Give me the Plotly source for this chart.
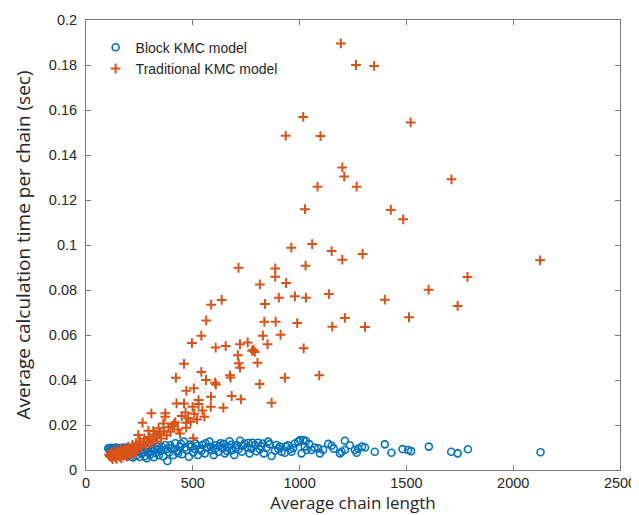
import plotly.graph_objects as go

# Block KMC model (blue circles)
block_x = [104,110,117,124,130,137,143,150,156,163,170,177,185,193,201,210,218,
           112,120,128,135,142,150,158,165,172,180,188,195,203,212,220,228,236,244,252,260,268,276,284,292,300,
           310,318,326,334,342,352,362,372,381,390,398,408,418,428,440,450,458,470,482,492,502,512,524,534,545,
           556,566,578,590,598,608,620,630,640,650,662,672,684,694,706,714,721,730,742,755,766,780,791,806,814,
           827,833,853,869,885,892,908,916,931,936,955,962,978,994,1002,1009,1017,1024,1030,1033,1056,1087,1095,
           1134,1150,1189,1197,1212,1212,1259,1267,1292,1306,1352,1399,1430,1482,1508,1522,1605,1710,1740,1788,2128,
           240,255,270,288,305,322,338,356,375,395,412,432,445,465,488,508,520,540,560,585,605,625,645,660,680,700,
           735,760,775,798,820,845,860,900,945,970,1045,1070,1110,1160,1235,1275]
block_y = [0.0097,0.0095,0.0099,0.0094,0.0098,0.0096,0.0100,0.0093,0.0097,0.0095,0.0099,0.0094,0.0097,0.0100,0.0095,0.0098,0.0093,
           0.0082,0.0075,0.0068,0.0086,0.0072,0.0064,0.0079,0.0070,0.0083,0.0066,0.0076,0.0060,0.0081,0.0070,0.0056,0.0078,0.0065,0.0085,0.0058,0.0073,0.0090,0.0062,0.0052,0.0080,0.0068,
           0.0094,0.0057,0.0076,0.0104,0.0066,0.0086,0.0060,0.0111,0.0040,0.0078,0.0096,0.0066,0.0119,0.0084,0.0104,0.0070,0.0126,0.0089,0.0059,0.0104,0.0078,0.0118,0.0067,0.0094,0.0111,
           0.0074,0.0100,0.0126,0.0088,0.0067,0.0110,0.0081,0.0119,0.0096,0.0074,0.0104,0.0128,0.0088,0.0067,0.0111,0.0092,0.0130,0.0081,0.0118,0.0101,0.0074,0.0121,0.0111,0.0121,0.0092,
           0.0118,0.0074,0.0126,0.0062,0.0086,0.0111,0.0104,0.0081,0.0077,0.0104,0.0092,0.0081,0.0118,0.0126,0.0133,0.0074,0.0133,0.0104,0.0129,0.0089,0.0089,0.0096,0.0074,
           0.0116,0.0108,0.0074,0.0081,0.0130,0.0089,0.0089,0.0077,0.0104,0.0100,0.0081,0.0114,0.0077,0.0093,0.0089,0.0084,0.0104,0.0081,0.0074,0.0092,0.0079,
           0.0092,0.0100,0.0080,0.0095,0.0085,0.0098,0.0090,0.0102,0.0092,0.0110,0.0093,0.0075,0.0117,0.0100,0.0113,0.0095,0.0108,0.0085,0.0119,0.0103,0.0095,0.0108,0.0116,0.0085,0.0112,0.0100,
           0.0107,0.0120,0.0095,0.0083,0.0106,0.0098,0.0115,0.0095,0.0110,0.0098,0.0115,0.0100,0.0090,0.0095,0.0110,0.0095]

# Traditional KMC model (orange crosses)
trad_x = [1193,1264,1349,1017,935,1098,1520,1200,1209,1084,1267,1711,
          1025,1427,1485,961,1059,1150,1200,1295,2126,
          714,886,1028,886,937,814,1786,1604,
          903,978,1030,1137,1399,1740,
          586,635,838,563,835,888,989,1153,1212,1306,1512,
          540,496,828,911,607,654,721,757,850,1019,
          784,790,778,711,715,803,459,721,
          421,540,562,604,608,674,677,813,931,1092,
          470,505,682,725,869,643,584,585,424,459,527,527,499,
          112,118,122,127,131,135,139,143,147,151,155,159,163,167,171,175,180,184,188,193,198,203,208,213,218,223,228,234,240,246,
          252,258,265,268,273,280,286,292,296,303,306,310,315,320,326,333,340,346,352,362,366,371,371,378,386,395,405,412,418,430,
          440,448,466,469,469,478,490,502,507,520,545,554,245,
          108,115,125,133,141,149,157,166,174,183,192,200,210,220,232]
trad_y = [0.1896,0.1800,0.1796,0.1569,0.1486,0.1484,0.1545,0.1345,0.1304,0.1259,0.1259,0.1292,
          0.1159,0.1156,0.1114,0.0988,0.1004,0.0973,0.0935,0.0960,0.0932,
          0.0899,0.0896,0.0908,0.0859,0.0831,0.0825,0.0858,0.0801,
          0.0766,0.0772,0.0766,0.0782,0.0757,0.0729,
          0.0735,0.0756,0.0738,0.0665,0.0659,0.0659,0.0653,0.0637,0.0676,0.0636,0.0679,
          0.0597,0.0564,0.0597,0.0601,0.0544,0.0551,0.0559,0.0567,0.0559,0.0541,
          0.0535,0.0525,0.0530,0.0510,0.0474,0.0477,0.0472,0.0455,
          0.0410,0.0436,0.0400,0.0388,0.0380,0.0421,0.0411,0.0382,0.0410,0.0421,
          0.0352,0.0363,0.0329,0.0314,0.0299,0.0277,0.0281,0.0326,0.0296,0.0296,0.0311,0.0293,0.0281,
          0.0062,0.0078,0.0055,0.0070,0.0085,0.0060,0.0074,0.0050,0.0088,0.0066,0.0079,0.0058,0.0092,0.0071,0.0083,0.0063,0.0097,0.0076,0.0088,0.0069,0.0104,0.0082,0.0095,0.0075,0.0112,0.0088,0.0100,0.0119,0.0093,0.0108,
          0.0128,0.0101,0.0210,0.0117,0.0140,0.0106,0.0125,0.0175,0.0148,0.0118,0.0252,0.0136,0.0173,0.0158,0.0127,0.0150,0.0186,0.0163,0.0140,0.0207,0.0172,0.0252,0.0237,0.0155,0.0190,0.0170,0.0195,0.0204,0.0212,0.0180,
          0.0162,0.0240,0.0256,0.0210,0.0188,0.0230,0.0215,0.0141,0.0250,0.0225,0.0265,0.0237,0.0156,
          0.0068,0.0058,0.0048,0.0064,0.0054,0.0072,0.0061,0.0052,0.0068,0.0080,0.0060,0.0071,0.0084,0.0066,0.0078]

x_ticks = [0, 500, 1000, 1500, 2000, 2500]
y_ticks = [0, 0.02, 0.04, 0.06, 0.08, 0.1, 0.12, 0.14, 0.16, 0.18, 0.2]
y_tick_text = ["0", "0.02", "0.04", "0.06", "0.08", "0.1", "0.12", "0.14", "0.16", "0.18", "0.2"]

BLUE = "#0072BD"
ORANGE = "#D95319"

fig = go.Figure()
fig.add_trace(go.Scatter(
    x=block_x, y=block_y, mode="markers", name="Block KMC model",
    marker=dict(symbol="circle-open", size=7, color=BLUE, line=dict(width=1.6, color=BLUE)),
))
fig.add_trace(go.Scatter(
    x=trad_x, y=trad_y, mode="markers", name="Traditional KMC model",
    marker=dict(symbol="cross-thin-open", size=7, color=ORANGE, line=dict(width=2, color=ORANGE)),
))

axis_common = dict(
    showgrid=False, zeroline=False, showline=True, mirror="ticks", automargin=False,
    linecolor="#7a7a7a", linewidth=1, ticks="inside", ticklen=5, tickcolor="#7a7a7a",
    tickfont=dict(family="Liberation Sans, Arial, sans-serif", size=14.5, color="#262626"),
)

# the page body adds an 8px offset, so the figure is sized to fit the window
fig.update_layout(
    width=631, height=507,
    paper_bgcolor="white", plot_bgcolor="white",
    margin=dict(l=78, r=19, t=12, b=45),
    showlegend=True,
    legend=dict(x=0.018, y=0.974, xanchor="left", yanchor="top", bgcolor="rgba(0,0,0,0)",
                font=dict(family="Liberation Sans, Arial, sans-serif", size=14, color="#262626"),
                itemwidth=30, tracegroupgap=0),
    xaxis=dict(range=[0, 2500], tickvals=x_ticks,
               title=dict(text="Average chain length", standoff=5,
                          font=dict(family="Open Sans, sans-serif", size=17, color="#262626")),
               **axis_common),
    yaxis=dict(range=[0, 0.2], tickvals=y_ticks, ticktext=y_tick_text, ticklabelstandoff=5,
               title=dict(text="Average calculation time per chain (sec)", standoff=13,
                          font=dict(family="Open Sans, sans-serif", size=19, color="#262626")),
               **axis_common),
)

fig.write_html("out.html")
